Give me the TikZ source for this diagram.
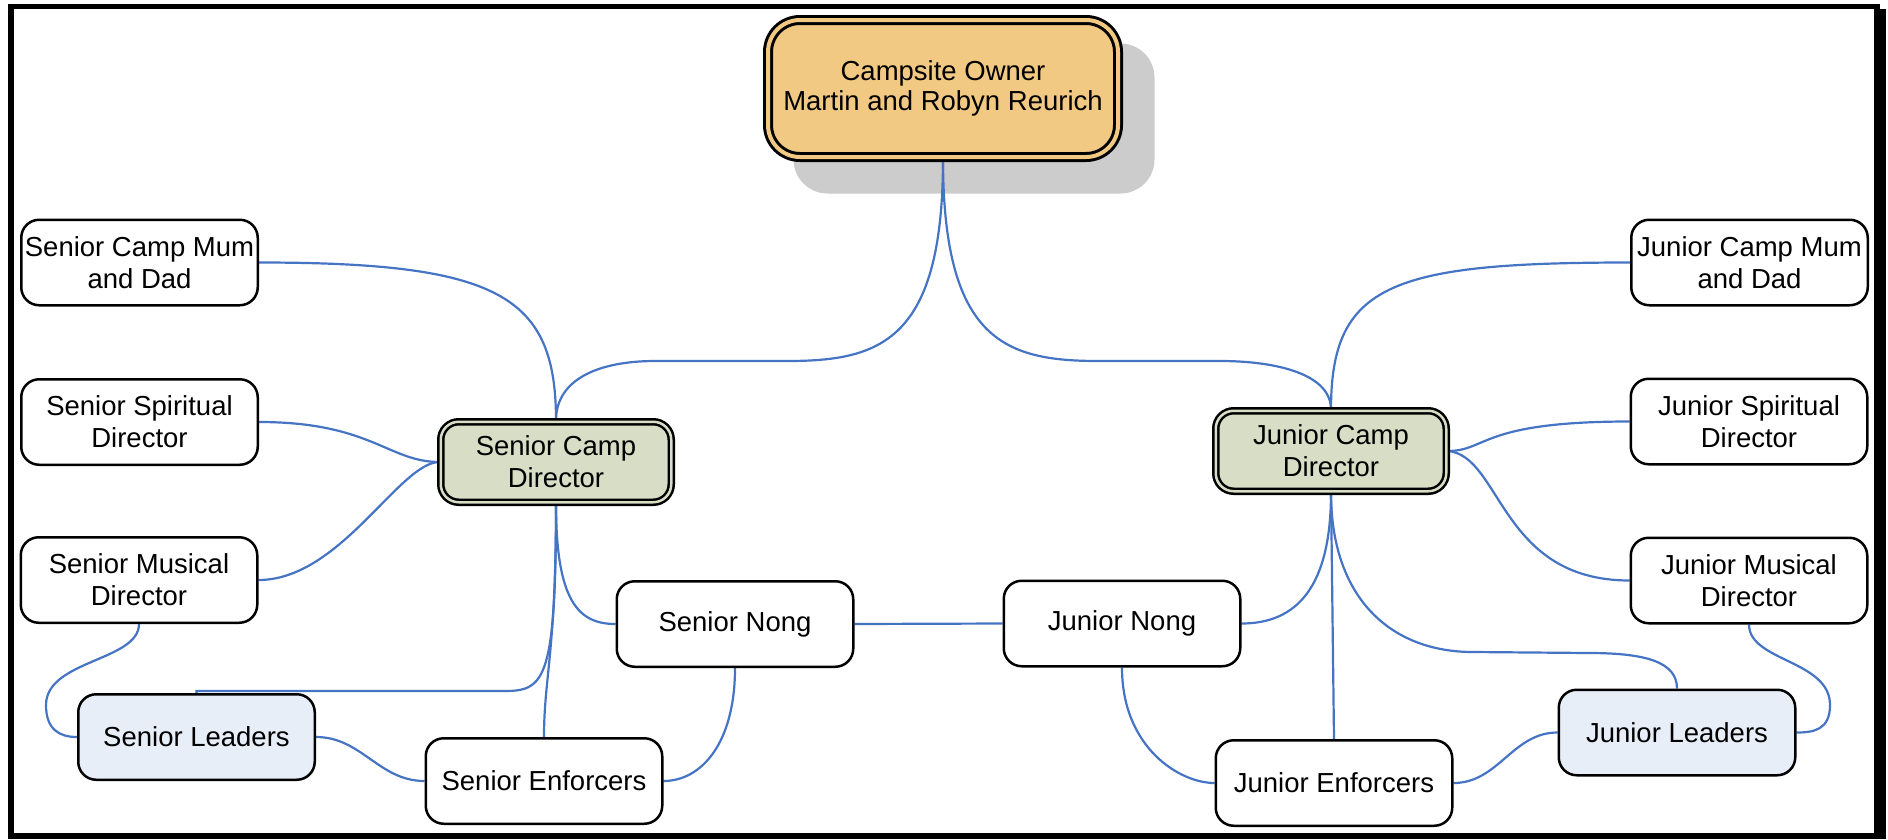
\documentclass[tikz,border=0pt]{standalone}
\usepackage{fontspec}
\setmainfont{Liberation Sans}
\usepackage{tikz}
\usetikzlibrary{calc,backgrounds}

\definecolor{ownfill}{HTML}{F2C983}
\definecolor{dirfill}{HTML}{D8DDC5}
\definecolor{leadfill}{HTML}{E8EEF8}
\definecolor{shadowgray}{HTML}{CCCCCC}
\definecolor{linkblue}{HTML}{4674C4}

\begin{document}
\begin{tikzpicture}[x=1pt,y=1pt,
		box/.style={draw, line width=2.5pt, rounded corners=18pt, fill=white, minimum width=236.5pt, minimum height=85.5pt, inner sep=0pt, align=center, font=\fontsize{27.5}{32}\selectfont},
		leadbox/.style={box, fill=leadfill},
		dirbox/.style={box, line width=2.5pt, double=dirfill, double distance=2.5pt, fill=dirfill, minimum width=230.5pt, minimum height=80.5pt},
		ownbox/.style={box, line width=3pt, double=ownfill, double distance=4pt, fill=ownfill, rounded corners=32pt, minimum width=350pt, minimum height=137pt, font=\fontsize{27.5}{30}\selectfont},
		link/.style={linkblue, line width=2.2pt}]
		\useasboundingbox (0,0) rectangle (1888,-839);
		
		%owner
		\node[ownbox] (own) at (943,-88.5) {Campsite Owner\\Martin and Robyn Reurich};
		
		%senior side
		\node[box] (smum) at (139.5,-262.5) {Senior Camp Mum\\and Dad};
		\node[box] (sspi) at (139.5,-422) {Senior Spiritual\\Director};
		\node[box] (smus) at (139,-580) {Senior Musical\\Director};
		\node[dirbox] (scd) at (556,-462) {Senior Camp\\Director};
		\node[box] (snong) at (735,-624) {Senior Nong};
		\node[leadbox] (sldr) at (196.5,-737) {Senior Leaders};
		\node[box] (senf) at (544,-781) {Senior Enforcers};
		
		%junior side
		\node[box] (jmum) at (1749.5,-262.5) {Junior Camp Mum\\and Dad};
		\node[box] (jspi) at (1749,-421.5) {Junior Spiritual\\Director};
		\node[box] (jmus) at (1749,-580.5) {Junior Musical\\Director};
		\node[dirbox] (jcd) at (1331,-451) {Junior Camp\\Director};
		\node[box] (jnong) at (1122,-623.5) {Junior Nong};
		\node[leadbox] (jldr) at (1677,-732.5) {Junior Leaders};
		\node[box] (jenf) at (1334,-783) {Junior Enforcers};
		
		%bends
		\coordinate (sbusa) at (787,-361);
		\coordinate (sbusb) at (655,-361);
		\coordinate (jbusa) at (1099,-361);
		\coordinate (jbusb) at (1220,-361);
		\coordinate (sbusc) at (505,-691);
		\coordinate (jbusc) at (1473,-652);
		\coordinate (jbusd) at (1589,-653);
		\coordinate (sbend) at (46,-705);
		\coordinate (jbend) at (1830,-705);
		
		\begin{scope}[on background layer]
			%shadow
			\fill[shadowgray, rounded corners=34pt] ([shift={(27,-35)}]own.south west) rectangle ([shift={(35,-25)}]own.north east);
			
			%owner to directors
			\draw[link] (own.south) .. controls +(0,-183) and +(93,0) .. (sbusa) -- (sbusb) .. controls +(-55,0) and +(0,42) .. (scd.north);
			\draw[link] (own.south) .. controls +(0,-183) and +(-93,0) .. (jbusa) -- (jbusb) .. controls +(55,0) and +(0,36) .. (jcd.north);
			
			%senior links
			\draw[link] (smum.east) .. controls +(240,0) and +(0,125) .. (scd.north);
			\draw[link] (sspi.east) .. controls +(112,0) and +(-51,0) .. (scd.west);
			\draw[link] (smus.east) .. controls +(82,0) and +(-40,0) .. (scd.west);
			\draw[link] (scd.south) .. controls +(0,-98) and +(-37,0) .. (snong.west);
			\draw[link] (scd.south) .. controls +(0,-175) and +(40,0) .. (sbusc) -| (sldr.north);
			\draw[link] (scd.south) .. controls +(0,-150) and +(0,60) .. (senf.north);
			\draw[link] (snong.south) .. controls +(0,-75) and +(38,0) .. (senf.east);
			\draw[link] (smus.south) .. controls +(0,-37) and +(0,45) .. (sbend) .. controls +(0,-25) and +(-17,0) .. (sldr.west);
			\draw[link] (sldr.east) to[out=0,in=180] (senf.west);
			
			%nong to nong
			\draw[link] (snong.east) -- (jnong.west);
			
			%junior links
			\draw[link] (jmum.west) .. controls +(-240,0) and +(0,125) .. (jcd.north);
			\draw[link] (jspi.west) .. controls +(-150,0) and +(40,0) .. (jcd.east);
			\draw[link] (jcd.east) .. controls +(54,-4) and +(-130,0) .. (jmus.west);
			\draw[link] (jcd.south) .. controls +(0,-95) and +(55,0) .. (jnong.east);
			\draw[link] (jcd.south) -- (jenf.north);
			\draw[link] (jcd.south) .. controls +(0,-105) and +(-83,0) .. (jbusc) -- (jbusd) .. controls +(58,0) and +(0,26) .. (jldr.north);
			\draw[link] (jmus.south) .. controls +(0,-37) and +(0,45) .. (jbend) .. controls +(0,-25) and +(17,0) .. (jldr.east);
			\draw[link] (jldr.west) to[out=180,in=0] (jenf.east);
			\draw[link] (jnong.south) .. controls +(0,-80) and +(-35,0) .. (jenf.west);
		\end{scope}
		
		%frame
		\draw[line width=5.5pt] (11,-6.5) rectangle (1877,-836);
		\fill (1874,-9) rectangle (1886,-839);
	\end{tikzpicture}
\end{document}
